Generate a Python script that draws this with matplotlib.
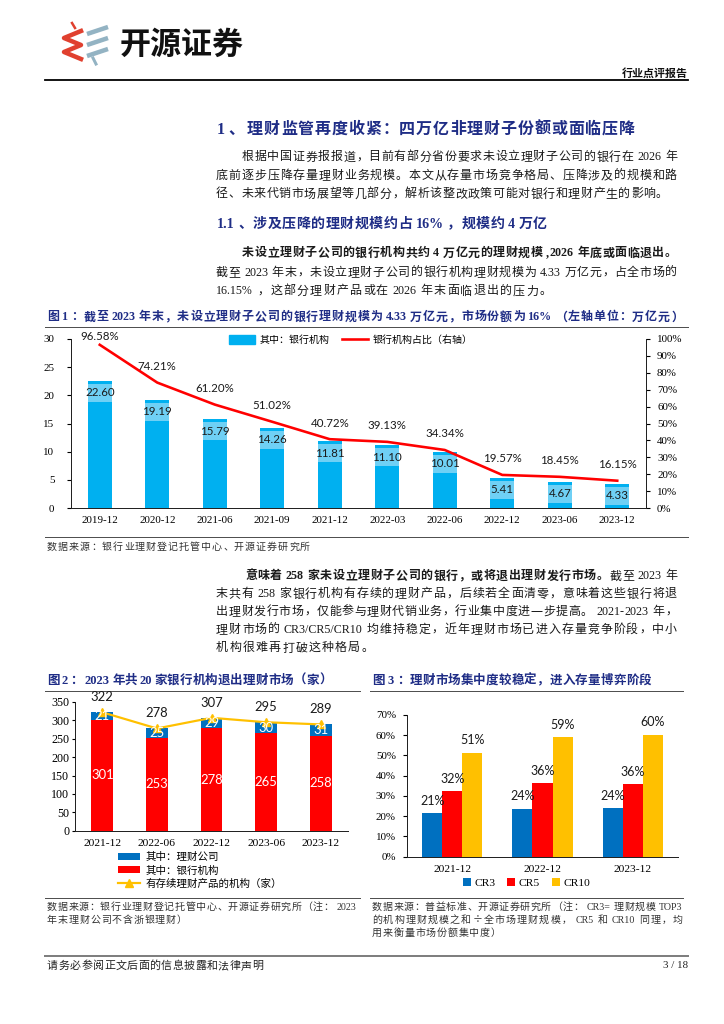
import numpy as np
import matplotlib
matplotlib.use('Agg')
import matplotlib.pyplot as plt
from matplotlib.font_manager import FontProperties
from matplotlib.textpath import TextToPath
from matplotlib.patches import Patch
from matplotlib.lines import Line2D
from matplotlib.ticker import FuncFormatter

W, H, DPI = 724, 1024, 100
CJK = 'Noto Sans CJK SC'
SERIF = 'Liberation Serif'
NUM = 'Lato'
NAVY = '#1F2D86'
TXT = '#1a1a1a'

plt.rcParams['font.family'] = [SERIF, CJK]

# ---- data: figure 1 (万亿元 / %)
dates1 = ['2019-12', '2020-12', '2021-06', '2021-09', '2021-12',
          '2022-03', '2022-06', '2022-12', '2023-06', '2023-12']
bank_scale = [22.60, 19.19, 15.79, 14.26, 11.81, 11.10, 10.01, 5.41, 4.67, 4.33]
bank_share = [96.58, 74.21, 61.20, 51.02, 40.72, 39.13, 34.34, 19.57, 18.45, 16.15]

# ---- data: figure 2 (家)
dates2 = ['2021-12', '2022-06', '2022-12', '2023-06', '2023-12']
wm_company = [21, 25, 29, 30, 31]
bank_inst = [301, 253, 278, 265, 258]
total_inst = [322, 278, 307, 295, 289]

# ---- data: figure 3 (%)
dates3 = ['2021-12', '2022-12', '2023-12']
cr3 = [21.4, 23.8, 23.9]
cr5 = [32.4, 36.3, 35.8]
cr10 = [51.4, 59.0, 60.2]


def pt(px):
    return px * 72 / DPI


fig = plt.figure(figsize=(W / DPI, H / DPI), dpi=DPI)
bg = fig.add_axes([0, 0, 1, 1])
bg.set_xlim(0, W)
bg.set_ylim(H, 0)
bg.axis('off')

t2p = TextToPath()


def split_tokens(text):
    toks, buf = [], ''
    for ch in text:
        if ord(ch) < 128:
            if ch == ' ':
                if buf:
                    toks.append(buf)
                    buf = ''
            else:
                buf += ch
        else:
            if buf:
                toks.append(buf)
                buf = ''
            toks.append(ch)
    if buf:
        toks.append(buf)
    return toks


def prop_for(tok, size, bold):
    fam = [SERIF, CJK] if ord(tok[0]) < 128 else [CJK, 'DejaVu Sans']
    return FontProperties(family=fam, size=pt(size), weight='bold' if bold else 'normal')


def draw_line(x0, y, parts, size, x1=None, color=TXT, track=0.5, gap_ascii=3):
    '''draw one line of mixed chinese / latin text, justified to x1 if given'''
    items = []
    for text, bold in parts:
        for tok in split_tokens(text):
            p = prop_for(tok, size, bold)
            w = t2p.get_text_width_height_descent(tok, p, ismath=False)[0] * DPI / 72
            items.append((tok, p, w))
    gaps = []
    for a, b in zip(items[:-1], items[1:]):
        gaps.append(gap_ascii if (ord(a[0][-1]) < 128) != (ord(b[0][0]) < 128) else 0)
    natural = sum(i[2] for i in items) + sum(gaps)
    g = (x1 - x0 - natural) / (len(items) - 1) if (x1 and len(items) > 1) else track
    x = x0
    base = y + size * 0.37
    for k, (tok, p, w) in enumerate(items):
        bg.text(x, base, tok, fontproperties=p, color=color, va='baseline', ha='left')
        x += w + g + (gaps[k] if k < len(gaps) else 0)


# ---------------- header
for yy in (27, 38, 49):
    bg.plot([87, 108], [yy + 7, yy], color='#93B3C3', lw=pt(4.5), solid_capstyle='butt')
bg.plot([93, 96], [58, 64], color='#93B3C3', lw=pt(3))
bg.plot([81, 64, 81, 64, 81], [31, 38, 45, 52, 59], color='#E0402F', lw=pt(4.5),
        solid_joinstyle='round')
bg.plot([72, 75], [23, 28], color='#E0402F', lw=pt(2.5))
bg.text(120, 45, '开源证券', fontsize=pt(31), fontfamily=CJK, fontweight='heavy',
        color='#111111', va='center', ha='left')
bg.text(688, 73, '行业点评报告', fontsize=pt(11), fontfamily=CJK, fontweight='bold',
        color='#111111', va='center', ha='right')
bg.plot([45, 688], [80, 80], color='black', lw=pt(1.8))

# ---------------- section text
draw_line(217, 128, [('1、', True)], 16, color=NAVY)
draw_line(247, 128, [('理财监管再度收紧：四万亿非理财子份额或面临压降', True)], 16, x1=635, color=NAVY)

p1 = ['根据中国证券报报道，目前有部分省份要求未设立理财子公司的银行在 2026 年',
      '底前逐步压降存量理财业务规模。本文从存量市场竞争格局、压降涉及的规模和路',
      '径、未来代销市场展望等几部分，解析该整改政策可能对银行和理财产生的影响。']
draw_line(242, 156, [(p1[0], False)], 12, x1=677)
draw_line(216, 174.5, [(p1[1], False)], 12, x1=677)
draw_line(216, 193, [(p1[2], False)], 12, x1=668)

draw_line(217, 223, [('1.1、', True)], 14, color=NAVY)
draw_line(253, 223, [('涉及压降的理财规模约占 16%，规模约 4 万亿', True)], 14, x1=547, color=NAVY)

draw_line(242, 252, [('未设立理财子公司的银行机构共约 4 万亿元的理财规模, 2026 年底或面临退出。', True)], 12, x1=677)
draw_line(216, 271.5, [('截至 2023 年末，未设立理财子公司的银行机构理财规模为 4.33 万亿元，占全市场的', False)], 12, x1=677)
draw_line(216, 290, [('16.15%，这部分理财产品或在 2026 年末面临退出的压力。', False)], 12, track=1.2)

# figure 1 title / frame
draw_line(47, 316, [('图1：截至 2023 年末，未设立理财子公司的银行理财规模为 4.33 万亿元，市场份额为 16%（左轴单位：万亿元）', True)],
          12, x1=683, color=NAVY, gap_ascii=2)
bg.plot([45, 688], [327, 327], color='#505050', lw=pt(1))
bg.plot([45, 688], [537, 537], color='#505050', lw=pt(1))
draw_line(47, 546, [('数据来源：银行业理财登记托管中心、开源证券研究所', False)], 10, track=1.0, color='#333333')

p2 = ['末共有 258 家银行机构有存续的理财产品，后续若全面清零，意味着这些银行将退',
      '出理财发行市场，仅能参与理财代销业务，行业集中度进一步提高。2021- 2023 年，',
      '理财市场的 CR3/CR5/CR10 均维持稳定，近年理财市场已进入存量竞争阶段，中小',
      '机构很难再打破这种格局。']
draw_line(245, 575, [('意味着 258 家未设立理财子公司的银行，或将退出理财发行市场。', True), ('截至 2023 年', False)], 12, x1=677)
draw_line(216, 593, [(p2[0], False)], 12, x1=677)
draw_line(216, 610.5, [(p2[1], False)], 12, x1=677)
draw_line(216, 628.5, [(p2[2], False)], 12, x1=677)
draw_line(216, 647, [(p2[3], False)], 12, track=1.2)

# figure 2 / 3 titles
draw_line(47, 679, [('图2：2023 年共 20 家银行机构退出理财市场（家）', True)], 12.5, track=0.2, color=NAVY, gap_ascii=2)
draw_line(372, 679, [('图3：理财市场集中度较稳定，进入存量博弈阶段', True)], 12.5, track=0.2, color=NAVY)
bg.plot([45, 360], [691, 691], color='#505050', lw=pt(1))
bg.plot([370, 683], [691, 691], color='#505050', lw=pt(1))
bg.plot([45, 360], [898, 898], color='#505050', lw=pt(1))
bg.plot([370, 683], [898, 898], color='#505050', lw=pt(1))

draw_line(47, 906, [('数据来源：银行业理财登记托管中心、开源证券研究所（注：2023', False)], 10, x1=357, color='#333333')
draw_line(47, 919, [('年末理财公司不含浙银理财）', False)], 10, track=0.8, color='#333333')
draw_line(372, 906, [('数据来源：普益标准、开源证券研究所（注：CR3=理财规模 TOP3', False)], 10, x1=683, color='#333333')
draw_line(372, 919, [('的机构理财规模之和÷全市场理财规模，CR5 和 CR10 同理，均', False)], 10, x1=683, color='#333333')
draw_line(372, 932, [('用来衡量市场份额集中度）', False)], 10, track=0.8, color='#333333')

# footer
bg.plot([45, 688], [956, 956], color='#7f7f7f', lw=pt(2))
draw_line(47, 965, [('请务必参阅正文后面的信息披露和法律声明', False)], 11, track=0.4, color='#222222')
bg.text(688, 965, '3 / 18', fontsize=pt(11), fontfamily=SERIF, color='#222222', va='center', ha='right')


def add_ax(left, top, right, bottom):
    return fig.add_axes([left / W, 1 - bottom / H, (right - left) / W, (bottom - top) / H])


def style_spines(ax, keep):
    for s in ['left', 'right', 'top', 'bottom']:
        ax.spines[s].set_visible(s in keep)
        ax.spines[s].set_color('#222222')
        ax.spines[s].set_linewidth(pt(1))


# ---------------- figure 1
ax1 = add_ax(71, 339, 646, 508)
x1 = np.arange(len(dates1))
bw = 0.42
ax1.bar(x1, bank_scale, width=bw, color='#00B0F0', zorder=2)
unit = 30 / 169
ax1.bar(x1, 18 * unit, bottom=np.array(bank_scale) - 12 * unit - 9 * unit, width=bw,
        color='#6FD0F5', zorder=3)
for xi, v in zip(x1, bank_scale):
    ax1.text(xi, v - 12 * unit, f'{v:.2f}', ha='center', va='center', fontsize=pt(11.5),
             fontfamily=NUM, color='#1a1a1a', zorder=4)
ax1.set_xlim(-0.5, len(dates1) - 0.5)
ax1.set_ylim(0, 30)
ax1.set_yticks(range(0, 31, 5))
ax1.set_xticks(x1)
ax1.set_xticklabels(dates1)
ax1.tick_params(axis='x', length=0, pad=6, labelsize=pt(11))
ax1.tick_params(axis='y', direction='out', length=3, pad=9, labelsize=pt(11))
style_spines(ax1, ['left', 'bottom'])

ax1b = ax1.twinx()
ax1b.plot(x1, bank_share, color='#FF0000', lw=pt(2.6), zorder=3)
ax1b.set_ylim(0, 100)
ax1b.set_yticks(range(0, 101, 10))
ax1b.yaxis.set_major_formatter(FuncFormatter(lambda v, p: f'{v:.0f}%'))
ax1b.tick_params(axis='y', direction='out', length=3, pad=5, labelsize=pt(11))
style_spines(ax1b, ['right'])
off = 16 * 100 / 169
for xi, v in zip(x1, bank_share):
    ax1b.text(xi, min(v + off, 101.2), f'{v:.2f}%', ha='center', va='center',
              fontsize=pt(11.5), fontfamily=NUM, color='#1a1a1a', clip_on=False)

h1 = [Patch(color='#00B0F0'), Line2D([], [], color='#FF0000', lw=pt(2.6))]
ax1b.legend(h1, ['其中：银行机构', '银行机构占比（右轴）'], loc='center', ncol=2,
            bbox_to_anchor=(0.487, 0.994), frameon=False, prop={'family': CJK, 'size': pt(10)},
            handlelength=2.6, handleheight=0.9, columnspacing=1.2, handletextpad=0.5)

# ---------------- figure 2
ax2 = add_ax(75, 702, 348, 830.7)
x2 = np.arange(len(dates2))
bw2 = 0.40
ax2.bar(x2, bank_inst, width=bw2, color='#FF0000', label='其中：银行机构', zorder=2)
ax2.bar(x2, wm_company, bottom=bank_inst, width=bw2, color='#0070C0', label='其中：理财公司', zorder=2)
ax2.plot(x2, total_inst, color='#FFC000', lw=pt(2.2), marker='^', markersize=pt(8),
         label='有存续理财产品的机构（家）', zorder=3)
for xi, r, b, t in zip(x2, bank_inst, wm_company, total_inst):
    ax2.text(xi, r / 2, f'{r}', ha='center', va='center', color='white', fontsize=pt(13),
             fontfamily=NUM, zorder=4)
    ax2.text(xi, r + b / 2, f'{b}', ha='center', va='center', color='white', fontsize=pt(13),
             fontfamily=NUM, zorder=4)
    ax2.annotate(f'{t}', (xi, t), xytext=(0, pt(15)), textcoords='offset points', ha='center',
                 va='center', fontsize=pt(13), fontfamily=NUM, color='#1a1a1a', annotation_clip=False)
ax2.set_xlim(-0.5, len(dates2) - 0.5)
ax2.set_ylim(0, 350)
ax2.set_yticks(range(0, 351, 50))
ax2.set_xticks(x2)
ax2.set_xticklabels(dates2)
ax2.tick_params(axis='x', length=0, pad=6, labelsize=pt(11.5))
ax2.tick_params(axis='y', direction='out', length=2, pad=2, labelsize=pt(12))
style_spines(ax2, ['left', 'bottom'])
hh, ll = ax2.get_legend_handles_labels()
ax2.legend([hh[2], hh[1], hh[0]], [ll[2], ll[1], ll[0]], loc='upper left',
           bbox_to_anchor=((118 - 75) / 273, (830.7 - 852) / 128.7), frameon=False,
           prop={'family': [SERIF, CJK], 'size': pt(10.5)}, handlelength=2.1,
           handleheight=0.6, labelspacing=0.32, handletextpad=0.55, borderpad=0, borderaxespad=0)

# ---------------- figure 3
ax3 = add_ax(407, 715, 678, 856.7)
x3 = np.arange(len(dates3))
w3 = 0.2215
for k, (vals, col, lab) in enumerate(zip([cr3, cr5, cr10], ['#0070C0', '#FF0000', '#FFC000'],
                                         ['CR3', 'CR5', 'CR10'])):
    xs = x3 + (k - 1) * w3
    ax3.bar(xs, vals, width=w3, color=col, label=lab, zorder=2)
    for xx, v in zip(xs, vals):
        ax3.annotate(f'{v:.0f}%', (xx, v), xytext=(0, pt(12.5)), textcoords='offset points',
                     ha='center', va='center', fontsize=pt(12.5), fontfamily=NUM, color='#1a1a1a')
ax3.set_xlim(-0.5, len(dates3) - 0.5)
ax3.set_ylim(0, 70)
ax3.set_yticks(range(0, 71, 10))
ax3.yaxis.set_major_formatter(FuncFormatter(lambda v, p: f'{v:.0f}%'))
ax3.set_xticks(x3)
ax3.set_xticklabels(dates3)
ax3.tick_params(axis='x', length=0, pad=6, labelsize=pt(11.5))
ax3.tick_params(axis='y', direction='out', length=3, pad=5, labelsize=pt(11))
style_spines(ax3, ['left', 'bottom'])
ax3.legend(loc='center', ncol=3, bbox_to_anchor=((526.5 - 407) / 271, (856.7 - 883) / 141.7),
           frameon=False, prop={'family': SERIF, 'size': pt(11.5)}, handlelength=0.7,
           handleheight=0.7, handletextpad=0.3, columnspacing=1.0)

fig.savefig('out.png', dpi=DPI)
